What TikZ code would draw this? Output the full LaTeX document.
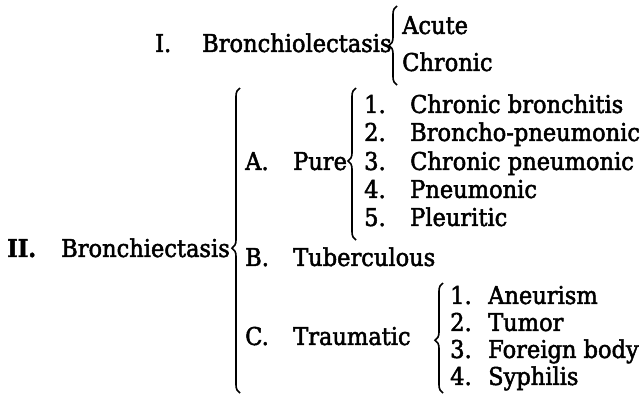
\documentclass[tikz,border=0pt]{standalone}
\usepackage{fontspec}
\setmainfont[FakeStretch=0.92,FakeBold=2]{DejaVu Serif}
\usetikzlibrary{decorations.pathreplacing}

\begin{document}
\begin{tikzpicture}[x=1pt,y=-1pt,
  txt/.style={anchor=west,inner sep=0pt,text height=17.9pt,text depth=0pt,
    font=\fontsize{24.5}{28}\selectfont},
  brc/.style={decorate,decoration={brace,amplitude=8pt,aspect=#1},line width=1.6pt},
  brc/.default=0.5]
  \useasboundingbox (0,0) rectangle (644,397);
  % I.
  \node[txt] (one) at (155,43) {I.};
  \node[txt] (bronchiol) at (202,43) {Bronchiolectasis};
  \node[txt] (acute) at (402,25) {Acute};
  \node[txt] (chronic) at (402,62) {Chronic};
  \coordinate (ib-top) at (397,6);
  \coordinate (ib-bot) at (397,85);
  \draw[brc] (ib-bot) -- (ib-top);
  % II.
  \node[txt] (two) at (7,248) {\textbf{II.}};
  \node[txt,anchor=east] (bronchiect) at (230,248) {Bronchiectasis};
  \coordinate (iib-top) at (240,88);
  \coordinate (iib-bot) at (240,393);
  \draw[brc=0.475] (iib-bot) -- (iib-top);
  \node[txt] (pure) at (245,161) {\makebox[48pt][l]{A.}Pure};
  \node[txt] (tuber) at (245,257) {\makebox[48pt][l]{B.}Tuberculous};
  \node[txt] (traum) at (245,336) {\makebox[48pt][l]{C.}Traumatic};
  % pure
  \foreach \i/\y/\t in {1/104/Chronic bronchitis,2/132/Broncho-pneumonic,
      3/161/Chronic pneumonic,4/189/Pneumonic,5/217/Pleuritic}
    \node[txt] (p\i) at (364,\y) {\makebox[46pt][l]{\i.}\t};
  \coordinate (pb-top) at (356,88);
  \coordinate (pb-bot) at (356,240);
  \draw[brc=0.52] (pb-bot) -- (pb-top);
  % traumatic
  \foreach \i/\y/\t in {1/295/Aneurism,2/322/Tumor,3/349/Foreign body,4/376/Syphilis}
    \node[txt] (t\i) at (450,\y) {\makebox[38pt][l]{\i.}\t};
  \coordinate (tb-top) at (443,283);
  \coordinate (tb-bot) at (443,393);
  \draw[brc=0.48] (tb-bot) -- (tb-top);
\end{tikzpicture}
\end{document}
